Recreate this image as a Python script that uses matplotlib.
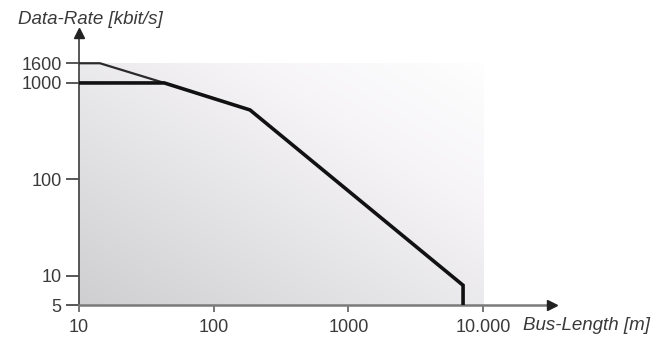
import numpy as np
import matplotlib
matplotlib.use("Agg")
import matplotlib.pyplot as plt
from matplotlib.colors import LinearSegmentedColormap

# Data
main_len = [10, 43, 186, 7100, 7100]          # bus length [m]
main_rate = [1000, 1000, 525, 8, 5]           # data rate [kbit/s]
upper_len = [10, 14.3, 43]
upper_rate = [1600, 1600, 1000]
x_ticks = [10, 100, 1000, 10000]
x_ticklabels = ["10", "100", "1000", "10.000"]
y_ticks = [5, 10, 100, 1000, 1600]
y_ticklabels = ["5", "10", "100", "1000", "1600"]

plt.rcParams['font.family'] = ['Liberation Sans', 'DejaVu Sans']
W, H = 655, 341
fig = plt.figure(figsize=(W / 100, H / 100), dpi=100)
left, right, bottom, top = 79, 552, 305, 33
ax = fig.add_axes([left / W, (H - bottom) / H, (right - left) / W, (bottom - top) / H])
ax.set_xscale('log')
ax.set_yscale('log')
xmax = 10 ** (1 + (right - left) / 134.7)
ymax = 10 ** (np.log10(5) + (bottom - top) / 96.5)
ax.set_xlim(10, xmax)
ax.set_ylim(5, ymax)

# gradient shading region (10..10000 m, 5..1600 kbit/s) in axes fractions
fx = np.log10(10000 / 10) / np.log10(xmax / 10)
fy = np.log10(1600 / 5) / np.log10(ymax / 5)
n = 200
u = np.linspace(0, 1, n)[None, :]
v = np.linspace(0, 1, n)[:, None]
t = (u + v) / 2
cmap = LinearSegmentedColormap.from_list(
    'g', [(0.0, '#cfcfd1'), (0.4, '#e5e4e7'), (0.7, '#f6f4f7'), (1.0, '#fefefe')])
ax.imshow(t, origin='lower', extent=(0, fx, 0, fy), aspect='auto',
          transform=ax.transAxes, cmap=cmap, vmin=0, vmax=1,
          interpolation='bilinear', zorder=0)
ax.set_xlim(10, xmax)
ax.set_ylim(5, ymax)

ax.plot(upper_len, upper_rate, color='#2a2a2a', lw=1.6, zorder=3, solid_joinstyle='round')
ax.plot(main_len, main_rate, color='#111111', lw=2.6, zorder=4, solid_joinstyle='miter')

for s in ['top', 'right']:
    ax.spines[s].set_visible(False)
ax.spines['left'].set_color('#4a4a4a')
ax.spines['left'].set_linewidth(1.3)
ax.spines['bottom'].set_color('#7a7a7a')
ax.spines['bottom'].set_linewidth(1.8)

ax.set_xticks(x_ticks)
ax.set_xticklabels(x_ticklabels)
ax.set_yticks(y_ticks)
ax.set_yticklabels(y_ticklabels)
ax.minorticks_off()
ax.tick_params(axis='y', length=9.5, width=1.3, color='#4a4a4a', pad=3,
               labelsize=13, labelcolor='#3a3a3a')
ax.tick_params(axis='x', length=5, width=1.3, color='#6a6a6a', pad=5,
               labelsize=13, labelcolor='#3a3a3a')

# arrow heads
ax.plot(1, 0, marker='>', color='#222222', markersize=7, transform=ax.transAxes,
        clip_on=False, zorder=5)
ax.plot(0, 1, marker='^', color='#222222', markersize=7, transform=ax.transAxes,
        clip_on=False, zorder=5)

fig.text(18 / W, 1 - 20 / H, "Data-Rate [kbit/s]", fontsize=13.5, style='italic',
         color='#3a3a3a', ha='left', va='center')
fig.text(650 / W, 1 - 325 / H, "Bus-Length [m]", fontsize=13.5, style='italic',
         color='#3a3a3a', ha='right', va='center')

fig.savefig('out.png', dpi=100, facecolor='white')
